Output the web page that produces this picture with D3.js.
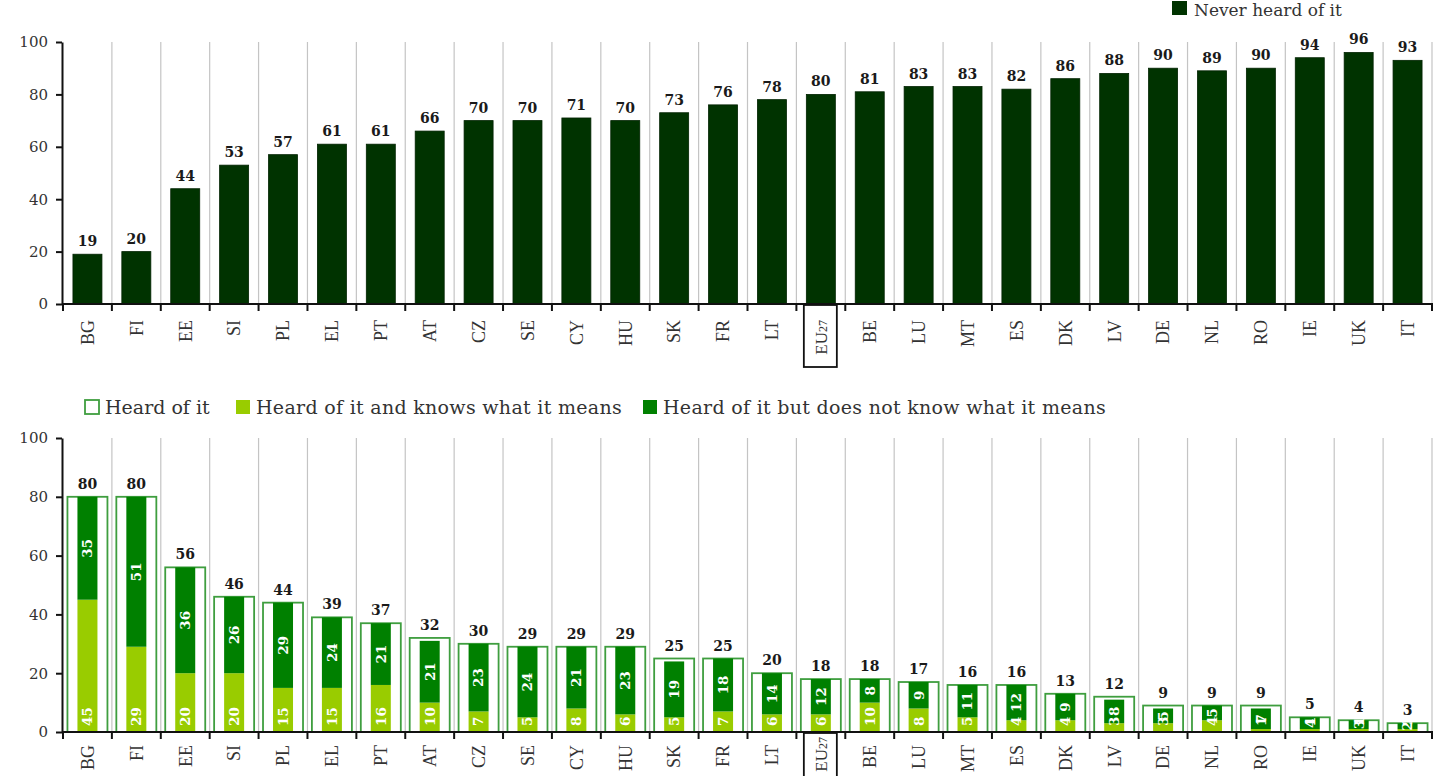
<!DOCTYPE html>
<html><head><meta charset="utf-8">
<script src="https://cdn.jsdelivr.net/npm/d3@7/dist/d3.min.js"></script>
<style>body{margin:0;background:#fff}svg{display:block}</style>
</head><body>
<svg id="c" width="1438" height="776"></svg>
<script>
const categories = ["BG","FI","EE","SI","PL","EL","PT","AT","CZ","SE","CY","HU","SK","FR","LT","EU27","BE","LU","MT","ES","DK","LV","DE","NL","RO","IE","UK","IT"];
const neverHeard = [19,20,44,53,57,61,61,66,70,70,71,70,73,76,78,80,81,83,83,82,86,88,90,89,90,94,96,93];
const heardTotal = [80,80,56,46,44,39,37,32,30,29,29,29,25,25,20,18,18,17,16,16,13,12,9,9,9,5,4,3];
const heardKnows = [45,29,20,20,15,15,16,10,7,5,8,6,5,7,6,6,10,8,5,4,4,3,3,4,1,1,1,1];
const heardNotKnow = [35,51,36,26,29,24,21,21,23,24,21,23,19,18,14,12,8,9,11,12,9,8,5,5,7,4,3,2];
const yTicks = [0,20,40,60,80,100];
const legendTop = ["Never heard of it"];
const legendBottom = ["Heard of it","Heard of it and knows what it means","Heard of it but does not know what it means"];

const C = {never:"#003300", knows:"#99cc00", notKnow:"#008000", outline:"#3f9e3f", grid:"#c4c4c4", text:"#333"};
const numFont = "'DejaVu Serif', serif";
const catFont = "'Liberation Serif', serif";

const svg = d3.select("#c");
const x = d3.scaleBand().domain(categories).range([63, 1432]).paddingInner(0).paddingOuter(0);
const bw = x.bandwidth();
const bounds = categories.map(c => x(c)).concat([x.range()[1]]);

function panel(y0, y1, cls) {
  const y = d3.scaleLinear().domain([0,100]).range([y1, y0]);
  const g = svg.append("g").attr("class", cls);
  g.selectAll("line.grid").data(bounds.slice(1)).join("line")
    .attr("class","grid").attr("x1",d=>d).attr("x2",d=>d)
    .attr("y1",y(100)).attr("y2",y(0)).attr("stroke",C.grid).attr("stroke-width",1.2);
  return {g, y};
}

function axes(p, labelY, euY) {
  const {g, y} = p;
  const ya = g.append("g").attr("transform",`translate(${x.range()[0]-1},0)`)
    .call(d3.axisLeft(y).tickValues(yTicks).tickSize(6).tickSizeOuter(0).tickPadding(8));
  ya.select(".domain").attr("stroke","#111").attr("stroke-width",2);
  ya.selectAll(".tick line").attr("stroke","#111").attr("stroke-width",2);
  ya.selectAll(".tick text").attr("font-family",numFont).attr("font-size",15).attr("fill",C.text);
  g.append("line").attr("x1",x.range()[0]-1).attr("x2",x.range()[1]+1)
    .attr("y1",y(0)).attr("y2",y(0)).attr("stroke","#111").attr("stroke-width",2);
  g.selectAll("line.xt").data(bounds).join("line").attr("class","xt")
    .attr("x1",d=>d).attr("x2",d=>d).attr("y1",y(0)).attr("y2",y(0)+7)
    .attr("stroke","#111").attr("stroke-width",2);
  const lab = g.selectAll("text.cat").data(categories).join("text").attr("class","cat")
    .attr("transform",d=>`translate(${x(d)+bw/2},${d==="EU27"?euY:labelY}) rotate(-90)`)
    .attr("text-anchor","end").attr("dy","0.35em")
    .attr("font-family",catFont).attr("font-size",18).attr("fill",C.text);
  lab.each(function(d){
    const t = d3.select(this);
    if (d === "EU27") { t.attr("font-size",17); t.append("tspan").text("EU"); t.append("tspan").attr("font-size",12).text("27"); }
    else t.text(d);
  });
  const eu = x("EU27");
  g.append("rect").attr("x",eu+bw/2-17).attr("y",y(0)+1).attr("width",33).attr("height",62)
    .attr("fill","none").attr("stroke","#111").attr("stroke-width",1.8);
}

// ---------- TOP PANEL ----------
const topP = panel(42, 304, "top");
topP.g.selectAll("rect.bar").data(categories).join("rect").attr("class","bar")
  .attr("x",d=>x(d)+bw/2-14.5).attr("width",29)
  .attr("y",(d,i)=>topP.y(neverHeard[i])).attr("height",(d,i)=>topP.y(0)-topP.y(neverHeard[i]))
  .attr("fill",C.never).attr("stroke","#002200").attr("stroke-width",0.8);
topP.g.selectAll("text.val").data(categories).join("text").attr("class","val")
  .attr("x",d=>x(d)+bw/2).attr("y",(d,i)=>topP.y(neverHeard[i])-8)
  .attr("text-anchor","middle").attr("font-family",numFont).attr("font-weight","bold")
  .attr("font-size",14).attr("fill","#1a1a1a").text((d,i)=>neverHeard[i]);
axes(topP, 320, 320);

const lt = svg.append("g");
lt.append("rect").attr("x",1172).attr("y",1).attr("width",15).attr("height",14).attr("fill",C.never);
lt.append("text").attr("x",1194).attr("y",16).attr("font-family",numFont).attr("font-size",17)
  .attr("fill",C.text).text(legendTop[0]);

// ---------- BOTTOM PANEL ----------
const botP = panel(438, 732, "bot");
const by = botP.y;
botP.g.selectAll("rect.outer").data(categories).join("rect").attr("class","outer")
  .attr("x",d=>x(d)+bw/2-20).attr("width",40)
  .attr("y",(d,i)=>by(heardTotal[i])).attr("height",(d,i)=>by(0)-by(heardTotal[i]))
  .attr("fill","#fff").attr("stroke",C.outline).attr("stroke-width",1.8);
botP.g.selectAll("rect.knows").data(categories).join("rect").attr("class","knows")
  .attr("x",d=>x(d)+bw/2-10).attr("width",20)
  .attr("y",(d,i)=>by(heardKnows[i])).attr("height",(d,i)=>by(0)-by(heardKnows[i]))
  .attr("fill",C.knows);
botP.g.selectAll("rect.notk").data(categories).join("rect").attr("class","notk")
  .attr("x",d=>x(d)+bw/2-10).attr("width",20)
  .attr("y",(d,i)=>by(heardKnows[i]+heardNotKnow[i])).attr("height",(d,i)=>by(heardKnows[i])-by(heardKnows[i]+heardNotKnow[i]))
  .attr("fill",C.notKnow);
botP.g.selectAll("text.kl").data(categories).join("text").attr("class","kl")
  .attr("transform",d=>`translate(${x(d)+bw/2},${by(0)-6}) rotate(-90)`)
  .attr("text-anchor","start").attr("dy","0.36em")
  .attr("font-family",numFont).attr("font-weight","bold").attr("font-size",13.5).attr("fill","#fff")
  .text((d,i)=>heardKnows[i]);
botP.g.selectAll("text.nl").data(categories).join("text").attr("class","nl")
  .attr("transform",(d,i)=>{
    const k = heardKnows[i], n = heardNotKnow[i];
    const cy = (by(k)+by(k+n))/2;
    return `translate(${x(d)+bw/2},${cy}) rotate(-90)`;})
  .attr("text-anchor","middle").attr("dy","0.36em")
  .attr("font-family",numFont).attr("font-weight","bold").attr("font-size",13.5).attr("fill","#fff")
  .text((d,i)=>heardNotKnow[i]);
botP.g.selectAll("text.val").data(categories).join("text").attr("class","val")
  .attr("x",d=>x(d)+bw/2).attr("y",(d,i)=>by(heardTotal[i])-8)
  .attr("text-anchor","middle").attr("font-family",numFont).attr("font-weight","bold")
  .attr("font-size",14).attr("fill","#1a1a1a").text((d,i)=>heardTotal[i]);
axes(botP, 745, 737);

const lb = svg.append("g");
const lx = [85, 236, 643];
const lfill = ["#fff", C.knows, C.notKnow];
legendBottom.forEach((t,i)=>{
  lb.append("rect").attr("x",lx[i]).attr("y",400).attr("width",14).attr("height",14)
    .attr("fill",lfill[i]).attr("stroke",i===0?C.outline:"none").attr("stroke-width",1.8);
  lb.append("text").attr("x",lx[i]+20).attr("y",414).attr("font-family",numFont).attr("font-size",19)
    .attr("letter-spacing",i===0?0:0.3).attr("fill",C.text).text(t);
});
</script>
</body></html>
